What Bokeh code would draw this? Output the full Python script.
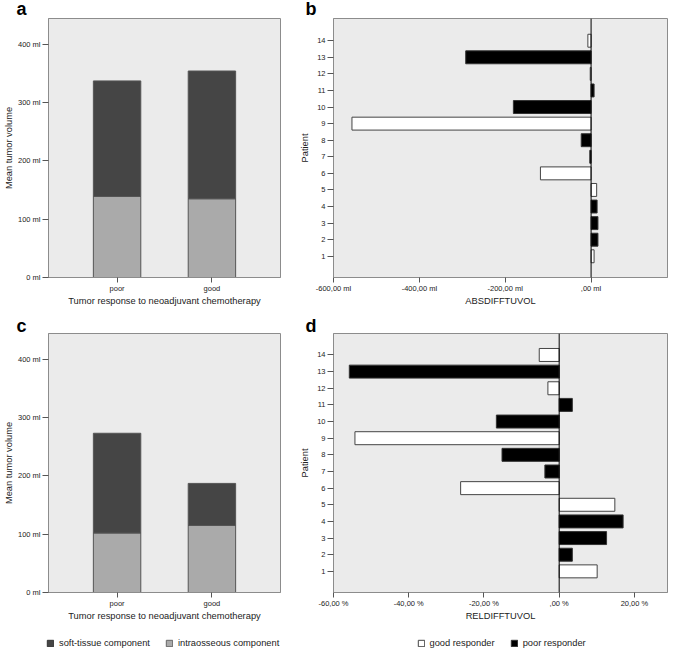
from bokeh.plotting import figure
from bokeh.models import (FactorRange, Range1d, FixedTicker, Span, Legend,
                          LegendItem, Title)
from bokeh.layouts import column, row
from bokeh.embed import file_html
from bokeh.resources import INLINE

FONT = "Liberation Sans"
DARK = "#454545"
LIGHT = "#aaaaaa"
BG = "#ebebeb"
FRAME = "#8c8c8c"
TXT = "#222222"

# ---------------- data ----------------
response_cats = ["poor", "good"]
intra_pre = [139, 135]          # intraosseous component (panel a)
soft_pre = [198, 219]           # soft-tissue component (panel a)
intra_post = [102, 115]         # intraosseous component (panel c)
soft_post = [171, 72]           # soft-tissue component (panel c)

patients = list(range(1, 15))
responder = ["good", "poor", "poor", "poor", "good", "good", "poor",
             "poor", "good", "poor", "poor", "good", "poor", "good"]
absdiff = [7, 16, 16, 14, 13, -118, -3, -23, -557, -181, 7, -2, -292, -7.5]
reldiff = [10.1, 3.5, 12.6, 17.0, 14.8, -26.2, -3.8, -15.2, -54.3, -16.7,
           3.5, -3.0, -55.8, -5.3]

vol_ticks = [0, 100, 200, 300, 400]
vol_labels = ["0 ml", "100 ml", "200 ml", "300 ml", "400 ml"]
abs_ticks = [-600, -400, -200, 0]
abs_labels = ["-600,00 ml", "-400,00 ml", "-200,00 ml", ",00 ml"]
rel_ticks = [-60, -40, -20, 0, 20]
rel_labels = ["-60,00 %", "-40,00 %", "-20,00 %", ",00 %", "20,00 %"]

W_LEFT, W_RIGHT = 293, 376
H_TOP, H_BOT, H_LEG = 310, 316, 22


def style(p):
    p.background_fill_color = BG
    p.border_fill_color = "white"
    p.outline_line_color = FRAME
    p.outline_line_width = 1
    p.grid.visible = False
    for ax in p.axis:
        ax.axis_line_color = FRAME
        ax.major_tick_line_color = "#555555"
        ax.minor_tick_line_color = None
        ax.major_tick_in = 0
        ax.major_tick_out = 5
        ax.major_label_standoff = 2
        ax.major_label_text_font = FONT
        ax.major_label_text_font_size = "7.5px"
        ax.major_label_text_color = TXT
        ax.axis_label_text_font = FONT
        ax.axis_label_text_font_size = "9.3px"
        ax.axis_label_text_font_style = "normal"
        ax.axis_label_text_color = TXT
    p.xaxis.major_label_standoff = 1
    p.xaxis.axis_label_standoff = 0


def letter(p, txt, offset, standoff, valign):
    p.add_layout(Title(text=txt, align="left", offset=offset, standoff=standoff,
                       text_font=FONT, text_font_size="18px",
                       text_font_style="bold", text_color="black",
                       vertical_align=valign), "above")


def bar_panel(txt, intra, soft, h, top, bottom, standoff, valign):
    p = figure(width=W_LEFT, height=h,
               x_range=FactorRange(*response_cats, range_padding=0.223,
                                   range_padding_units="absolute"),
               y_range=Range1d(0, 444),
               output_backend="svg", toolbar_location=None,
               min_border_left=47, min_border_right=13,
               min_border_top=top, min_border_bottom=bottom)
    src = dict(cat=response_cats, intra=intra, soft=soft)
    p.vbar_stack(["intra", "soft"], x="cat", width=0.5, source=src,
                 fill_color=[LIGHT, DARK], line_color="#555555", line_width=1)
    style(p)
    p.yaxis.ticker = FixedTicker(ticks=vol_ticks)
    p.yaxis.major_label_overrides = dict(zip(vol_ticks, vol_labels))
    p.yaxis.major_tick_out = 6
    p.yaxis.axis_label = "Mean tumor volume"
    p.yaxis.axis_label_standoff = 1
    p.xaxis.axis_label = "Tumor response to neoadjuvant chemotherapy"
    letter(p, txt, -32, standoff, valign)
    return p


def diff_panel(txt, vals, xr, yr, ticks, labels, xlabel, h, top, bottom,
               standoff, valign):
    p = figure(width=W_RIGHT, height=h, x_range=Range1d(*xr),
               y_range=Range1d(*yr),
               output_backend="svg", toolbar_location=None,
               min_border_left=40, min_border_right=2,
               min_border_top=top, min_border_bottom=bottom)
    g = [i for i, r in enumerate(responder) if r == "good"]
    q = [i for i, r in enumerate(responder) if r == "poor"]
    p.hbar(y=[patients[i] for i in g], left=0, right=[vals[i] for i in g],
           height=0.78, fill_color="white", line_color="#444444", line_width=1)
    p.hbar(y=[patients[i] for i in q], left=0, right=[vals[i] for i in q],
           height=0.78, fill_color="black", line_color="#333333", line_width=1)
    p.add_layout(Span(location=0, dimension="height", line_color="black",
                      line_width=1))
    style(p)
    p.xaxis.ticker = FixedTicker(ticks=ticks)
    p.xaxis.major_label_overrides = dict(zip(ticks, labels))
    p.xaxis.axis_label = xlabel
    p.yaxis.ticker = FixedTicker(ticks=patients)
    p.yaxis.major_tick_out = 6
    p.yaxis.axis_label = "Patient"
    p.yaxis.axis_label_standoff = 4
    letter(p, txt, -28, standoff, valign)
    return p


def legend_fig(width, labels, fills, lines, x):
    p = figure(width=width, height=H_LEG, x_range=Range1d(0, 1),
               y_range=Range1d(0, 1), x_axis_location=None,
               y_axis_location=None, output_backend="svg",
               toolbar_location=None, min_border=0)
    p.outline_line_color = None
    p.background_fill_color = "white"
    p.border_fill_color = "white"
    p.grid.visible = False
    items = []
    for lab, fc, lc in zip(labels, fills, lines):
        # legend key only: one bar kept outside the visible range
        r = p.vbar(x=[-5], bottom=[-5], top=[-4], width=0.1, fill_color=fc,
                   line_color=lc, line_width=1)
        items.append(LegendItem(label=lab, renderers=[r]))
    leg = Legend(items=items, location=(x, 0.5), orientation="horizontal",
                 glyph_width=8, glyph_height=8, label_standoff=5,
                 spacing=15, padding=0, margin=0, border_line_color=None,
                 background_fill_alpha=0, label_text_font=FONT,
                 label_text_font_size="9.3px", label_text_color=TXT,
                 label_height=10)
    p.add_layout(leg)
    return p


pa = bar_panel("a", intra_pre, soft_pre, H_TOP, 18, 33, -4, "top")
pc = bar_panel("c", intra_post, soft_post, H_BOT, 23, 34, -5, "bottom")
pb = diff_panel("b", absdiff, (-600, 178), (-0.28, 15.34), abs_ticks,
                abs_labels, "ABSDIFFTUVOL", H_TOP, 18, 33, -4, "top")
pd = diff_panel("d", reldiff, (-60, 28.8), (-0.27, 15.29), rel_ticks,
                rel_labels, "RELDIFFTUVOL", H_BOT, 23, 34, -5, "bottom")

lc = legend_fig(W_LEFT, ["soft-tissue component", "intraosseous component"],
                [DARK, LIGHT], ["#333333", "#666666"], 46)
ld = legend_fig(W_RIGHT, ["good responder", "poor responder"],
                ["white", "black"], ["#444444", "#333333"], 123.5)

layout = column(row(pa, pb), row(pc, pd), row(lc, ld))
open("out.html", "w").write(file_html(layout, INLINE))
